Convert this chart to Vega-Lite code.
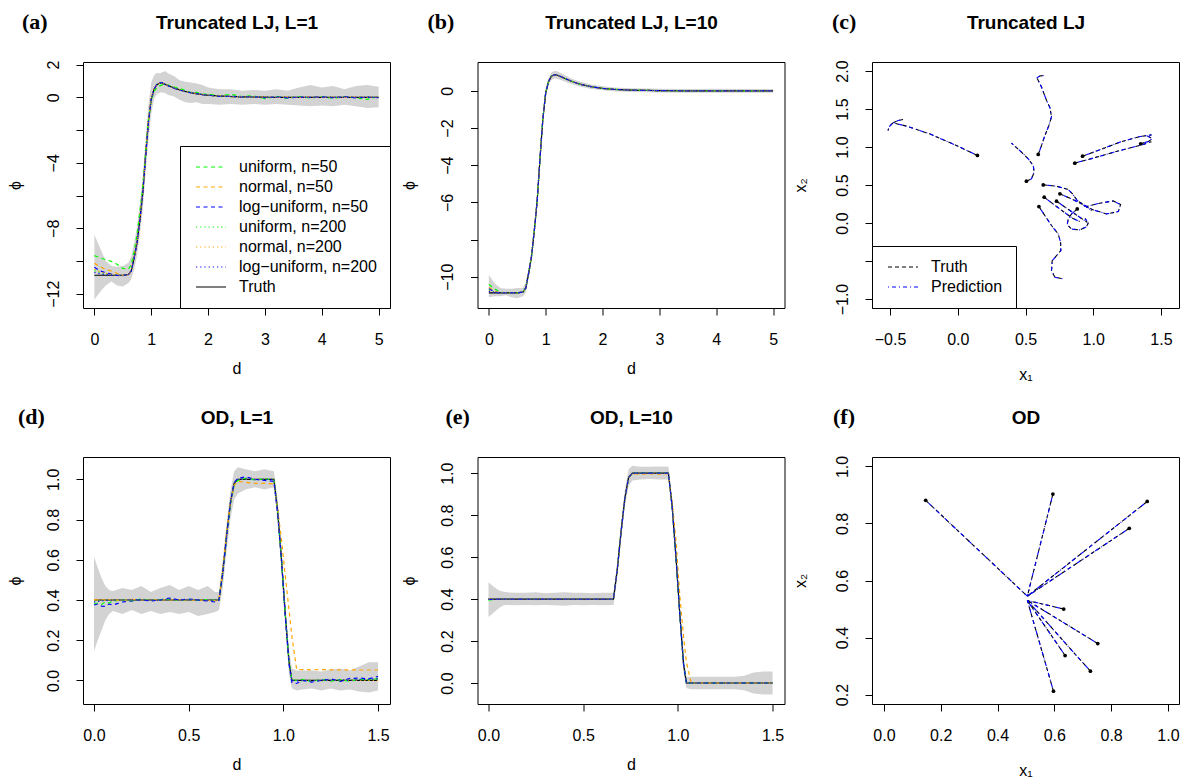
{
"$schema": "https://vega.github.io/schema/vega-lite/v6.json",
"background": "#ffffff",
"padding": {"left": 6, "top": 10, "right": 0, "bottom": 0},
"bounds": "flush",
"columns": 3,
"spacing": {"row": 149, "column": 87.5},
"resolve": {"scale": {"x": "independent", "y": "independent", "color": "independent", "strokeDash": "independent"}, "axis": {"x": "independent", "y": "independent"}, "legend": {"color": "independent", "strokeDash": "independent"}},
"config": {
  "view": {"stroke": "#000000", "strokeWidth": 1},
  "font": "Liberation Sans",
  "axis": {"grid": false, "domain": false, "tickColor": "#000000", "tickSize": 7, "tickWidth": 1, "labelFont": "Liberation Sans", "labelFontSize": 16, "labelColor": "#000000", "titleFont": "Liberation Sans", "titleFontSize": 16, "titleFontWeight": "normal", "titleColor": "#000000", "labelFlush": false, "labelOverlap": false},
  "axisX": {"labelPadding": 16, "titlePadding": 13},
  "axisY": {"labelAngle": -90, "labelAlign": "center", "labelBaseline": "alphabetic", "labelPadding": 18, "titlePadding": 22},
  "legend": {"strokeColor": "#000000", "fillColor": "#ffffff", "padding": 13, "offset": 0, "labelFontSize": 16, "labelFont": "Liberation Sans", "labelColor": "#000000", "symbolType": "M-1,0H5", "symbolSize": 100, "symbolStrokeWidth": 1.2, "labelOffset": 30, "rowPadding": 4, "cornerRadius": 0},
  "title": {"font": "Liberation Serif", "fontSize": 22, "fontWeight": "bold", "anchor": "start", "frame": "group", "offset": 0, "color": "#000000", "baseline": "alphabetic", "align": "left"}
},
"datasets": {
"lj": [
{"p":"a","d":0,"lo":-12.35,"hi":-8.4,"T":-10.87,"u50":-9.67,"n50":-10.14,"l50":-10.38,"u200":-10.6,"n200":-10.5,"l200":-10.7},
{"p":"a","d":0.1,"lo":-11.9,"hi":-9.2,"T":-10.87,"u50":-9.8,"n50":-10.35,"l50":-10.6,"u200":-10.7,"n200":-10.65,"l200":-10.78},
{"p":"a","d":0.2,"lo":-11.5,"hi":-10,"T":-10.87,"u50":-9.92,"n50":-10.5,"l50":-10.72,"u200":-10.78,"n200":-10.75,"l200":-10.83},
{"p":"a","d":0.3,"lo":-11.25,"hi":-10.3,"T":-10.87,"u50":-10.02,"n50":-10.62,"l50":-10.8,"u200":-10.84,"n200":-10.82,"l200":-10.86},
{"p":"a","d":0.4,"lo":-11.5,"hi":-10.35,"T":-10.87,"u50":-10.2,"n50":-10.75,"l50":-10.88,"u200":-10.87,"n200":-10.86,"l200":-10.87},
{"p":"a","d":0.5,"lo":-11.55,"hi":-10.3,"T":-10.87,"u50":-10.45,"n50":-10.88,"l50":-10.9,"u200":-10.88,"n200":-10.88,"l200":-10.87},
{"p":"a","d":0.6,"lo":-11.35,"hi":-10.1,"T":-10.82,"u50":-10.5,"n50":-10.85,"l50":-10.83,"u200":-10.82,"n200":-10.83,"l200":-10.82},
{"p":"a","d":0.65,"lo":-11.1,"hi":-9.7,"T":-10.6,"u50":-10.2,"n50":-10.55,"l50":-10.6,"u200":-10.58,"n200":-10.6,"l200":-10.6},
{"p":"a","d":0.7,"lo":-10.5,"hi":-8.9,"T":-9.8,"u50":-9.4,"n50":-9.7,"l50":-9.8,"u200":-9.75,"n200":-9.8,"l200":-9.8},
{"p":"a","d":0.75,"lo":-9.7,"hi":-7.9,"T":-8.9,"u50":-8.4,"n50":-8.8,"l50":-8.9,"u200":-8.85,"n200":-8.9,"l200":-8.9},
{"p":"a","d":0.8,"lo":-8.4,"hi":-6.5,"T":-7.5,"u50":-7,"n50":-7.4,"l50":-7.5,"u200":-7.45,"n200":-7.5,"l200":-7.5},
{"p":"a","d":0.85,"lo":-6.9,"hi":-4.9,"T":-5.9,"u50":-5.5,"n50":-5.8,"l50":-5.9,"u200":-5.85,"n200":-5.9,"l200":-5.9},
{"p":"a","d":0.9,"lo":-4.7,"hi":-2.6,"T":-3.6,"u50":-3.4,"n50":-3.5,"l50":-3.7,"u200":-3.6,"n200":-3.6,"l200":-3.6},
{"p":"a","d":0.95,"lo":-2.6,"hi":-0.5,"T":-1.5,"u50":-1.4,"n50":-1.4,"l50":-1.6,"u200":-1.5,"n200":-1.5,"l200":-1.5},
{"p":"a","d":1,"lo":-1,"hi":0.9,"T":-0.1,"u50":-0.2,"n50":-0.05,"l50":-0.15,"u200":-0.1,"n200":-0.1,"l200":-0.1},
{"p":"a","d":1.05,"lo":-0.1,"hi":1.35,"T":0.5,"u50":0.35,"n50":0.5,"l50":0.48,"u200":0.48,"n200":0.5,"l200":0.5},
{"p":"a","d":1.1,"lo":0.2,"hi":1.5,"T":0.78,"u50":0.6,"n50":0.8,"l50":0.8,"u200":0.76,"n200":0.78,"l200":0.79},
{"p":"a","d":1.15,"lo":0.3,"hi":1.45,"T":0.86,"u50":0.7,"n50":0.85,"l50":0.9,"u200":0.85,"n200":0.86,"l200":0.87},
{"p":"a","d":1.2,"lo":0.3,"hi":1.55,"T":0.85,"u50":0.78,"n50":0.86,"l50":0.88,"u200":0.86,"n200":0.85,"l200":0.85},
{"p":"a","d":1.25,"lo":0.25,"hi":1.6,"T":0.79,"u50":0.75,"n50":0.8,"l50":0.8,"u200":0.8,"n200":0.79,"l200":0.78},
{"p":"a","d":1.3,"lo":0.15,"hi":1.45,"T":0.72,"u50":0.75,"n50":0.7,"l50":0.7,"u200":0.72,"n200":0.72,"l200":0.72},
{"p":"a","d":1.4,"lo":0.05,"hi":1.3,"T":0.58,"u50":0.62,"n50":0.56,"l50":0.56,"u200":0.6,"n200":0.58,"l200":0.57},
{"p":"a","d":1.5,"lo":-0.15,"hi":1.05,"T":0.46,"u50":0.55,"n50":0.47,"l50":0.44,"u200":0.47,"n200":0.46,"l200":0.45},
{"p":"a","d":1.6,"lo":-0.3,"hi":0.95,"T":0.36,"u50":0.42,"n50":0.34,"l50":0.37,"u200":0.37,"n200":0.36,"l200":0.36},
{"p":"a","d":1.7,"lo":-0.35,"hi":0.9,"T":0.28,"u50":0.3,"n50":0.29,"l50":0.27,"u200":0.29,"n200":0.28,"l200":0.28},
{"p":"a","d":1.8,"lo":-0.3,"hi":0.85,"T":0.22,"u50":0.3,"n50":0.21,"l50":0.23,"u200":0.22,"n200":0.22,"l200":0.22},
{"p":"a","d":1.9,"lo":-0.4,"hi":0.75,"T":0.17,"u50":0.2,"n50":0.18,"l50":0.15,"u200":0.17,"n200":0.17,"l200":0.17},
{"p":"a","d":2,"lo":-0.4,"hi":0.6,"T":0.13,"u50":0.2,"n50":0.12,"l50":0.14,"u200":0.14,"n200":0.13,"l200":0.13},
{"p":"a","d":2.2,"lo":-0.45,"hi":0.5,"T":0.08,"u50":0.1,"n50":0.09,"l50":0.06,"u200":0.07,"n200":0.08,"l200":0.08},
{"p":"a","d":2.4,"lo":-0.4,"hi":0.5,"T":0.05,"u50":0.18,"n50":0.04,"l50":0.07,"u200":0.06,"n200":0.05,"l200":0.05},
{"p":"a","d":2.6,"lo":-0.45,"hi":0.4,"T":0.03,"u50":0.05,"n50":0.04,"l50":0.02,"u200":0.03,"n200":0.03,"l200":0.03},
{"p":"a","d":2.8,"lo":-0.4,"hi":0.45,"T":0.02,"u50":0.1,"n50":0.01,"l50":0.04,"u200":0.02,"n200":0.02,"l200":0.02},
{"p":"a","d":3,"lo":-0.45,"hi":0.4,"T":0.01,"u50":-0.08,"n50":0.02,"l50":-0.02,"u200":0,"n200":0.01,"l200":0.01},
{"p":"a","d":3.2,"lo":-0.4,"hi":0.5,"T":0,"u50":0.06,"n50":-0.01,"l50":0.03,"u200":0.01,"n200":0,"l200":0},
{"p":"a","d":3.4,"lo":-0.45,"hi":0.4,"T":0,"u50":-0.06,"n50":0.01,"l50":-0.03,"u200":-0.01,"n200":0,"l200":0},
{"p":"a","d":3.6,"lo":-0.5,"hi":0.6,"T":0,"u50":0.05,"n50":-0.01,"l50":0.02,"u200":0.01,"n200":0,"l200":0},
{"p":"a","d":3.8,"lo":-0.55,"hi":0.75,"T":0,"u50":-0.04,"n50":0.02,"l50":0,"u200":-0.01,"n200":0,"l200":0},
{"p":"a","d":4,"lo":-0.5,"hi":0.6,"T":0,"u50":0.04,"n50":-0.01,"l50":0.03,"u200":0.01,"n200":0,"l200":0},
{"p":"a","d":4.2,"lo":-0.55,"hi":0.7,"T":0,"u50":-0.05,"n50":0.01,"l50":-0.02,"u200":-0.01,"n200":0,"l200":0},
{"p":"a","d":4.4,"lo":-0.45,"hi":0.5,"T":0,"u50":0.03,"n50":0,"l50":0.04,"u200":0.01,"n200":0,"l200":0},
{"p":"a","d":4.6,"lo":-0.55,"hi":0.7,"T":0,"u50":-0.03,"n50":0.01,"l50":-0.03,"u200":-0.01,"n200":0,"l200":0},
{"p":"a","d":4.8,"lo":-0.65,"hi":0.75,"T":0,"u50":-0.12,"n50":-0.01,"l50":0.02,"u200":0.01,"n200":0,"l200":0},
{"p":"a","d":5,"lo":-0.6,"hi":0.65,"T":0,"u50":0.05,"n50":0.01,"l50":-0.02,"u200":0,"n200":0,"l200":0},
{"p":"b","d":0,"lo":-11.1,"hi":-9.9,"T":-10.87,"u50":-10.42,"n50":-10.58,"l50":-10.65,"u200":-10.7,"n200":-10.75,"l200":-10.78},
{"p":"b","d":0.1,"lo":-11.05,"hi":-10.35,"T":-10.87,"u50":-10.65,"n50":-10.78,"l50":-10.82,"u200":-10.82,"n200":-10.84,"l200":-10.85},
{"p":"b","d":0.2,"lo":-11.05,"hi":-10.6,"T":-10.87,"u50":-10.82,"n50":-10.86,"l50":-10.87,"u200":-10.86,"n200":-10.87,"l200":-10.87},
{"p":"b","d":0.3,"lo":-11,"hi":-10.65,"T":-10.87,"u50":-10.87,"n50":-10.87,"l50":-10.87,"u200":-10.87,"n200":-10.87,"l200":-10.87},
{"p":"b","d":0.4,"lo":-11.1,"hi":-10.65,"T":-10.87,"u50":-10.87,"n50":-10.87,"l50":-10.87,"u200":-10.87,"n200":-10.87,"l200":-10.87},
{"p":"b","d":0.5,"lo":-11.15,"hi":-10.6,"T":-10.87,"u50":-10.87,"n50":-10.87,"l50":-10.87,"u200":-10.87,"n200":-10.87,"l200":-10.87},
{"p":"b","d":0.6,"lo":-11.05,"hi":-10.6,"T":-10.82,"u50":-10.82,"n50":-10.82,"l50":-10.82,"u200":-10.82,"n200":-10.82,"l200":-10.82},
{"p":"b","d":0.65,"lo":-10.85,"hi":-10.3,"T":-10.6,"u50":-10.6,"n50":-10.6,"l50":-10.6,"u200":-10.6,"n200":-10.6,"l200":-10.6},
{"p":"b","d":0.7,"lo":-10.1,"hi":-9.5,"T":-9.8,"u50":-9.8,"n50":-9.8,"l50":-9.8,"u200":-9.8,"n200":-9.8,"l200":-9.8},
{"p":"b","d":0.75,"lo":-9.2,"hi":-8.6,"T":-8.9,"u50":-8.9,"n50":-8.9,"l50":-8.9,"u200":-8.9,"n200":-8.9,"l200":-8.9},
{"p":"b","d":0.8,"lo":-7.8,"hi":-7.2,"T":-7.5,"u50":-7.5,"n50":-7.5,"l50":-7.5,"u200":-7.5,"n200":-7.5,"l200":-7.5},
{"p":"b","d":0.85,"lo":-6.2,"hi":-5.6,"T":-5.9,"u50":-5.9,"n50":-5.9,"l50":-5.9,"u200":-5.9,"n200":-5.9,"l200":-5.9},
{"p":"b","d":0.9,"lo":-3.9,"hi":-3.3,"T":-3.6,"u50":-3.6,"n50":-3.6,"l50":-3.6,"u200":-3.6,"n200":-3.6,"l200":-3.6},
{"p":"b","d":0.95,"lo":-1.8,"hi":-1.2,"T":-1.5,"u50":-1.5,"n50":-1.5,"l50":-1.5,"u200":-1.5,"n200":-1.5,"l200":-1.5},
{"p":"b","d":1,"lo":-0.35,"hi":0.15,"T":-0.1,"u50":-0.1,"n50":-0.1,"l50":-0.1,"u200":-0.1,"n200":-0.1,"l200":-0.1},
{"p":"b","d":1.05,"lo":0.3,"hi":0.7,"T":0.5,"u50":0.5,"n50":0.5,"l50":0.5,"u200":0.5,"n200":0.5,"l200":0.5},
{"p":"b","d":1.1,"lo":0.58,"hi":0.98,"T":0.78,"u50":0.78,"n50":0.78,"l50":0.78,"u200":0.78,"n200":0.78,"l200":0.78},
{"p":"b","d":1.15,"lo":0.66,"hi":1.06,"T":0.86,"u50":0.86,"n50":0.86,"l50":0.86,"u200":0.86,"n200":0.86,"l200":0.86},
{"p":"b","d":1.2,"lo":0.65,"hi":1.05,"T":0.85,"u50":0.85,"n50":0.85,"l50":0.85,"u200":0.85,"n200":0.85,"l200":0.85},
{"p":"b","d":1.3,"lo":0.54,"hi":0.9,"T":0.72,"u50":0.72,"n50":0.72,"l50":0.72,"u200":0.72,"n200":0.72,"l200":0.72},
{"p":"b","d":1.4,"lo":0.42,"hi":0.74,"T":0.58,"u50":0.58,"n50":0.58,"l50":0.58,"u200":0.58,"n200":0.58,"l200":0.58},
{"p":"b","d":1.5,"lo":0.32,"hi":0.6,"T":0.46,"u50":0.46,"n50":0.46,"l50":0.46,"u200":0.46,"n200":0.46,"l200":0.46},
{"p":"b","d":1.6,"lo":0.23,"hi":0.5,"T":0.36,"u50":0.36,"n50":0.36,"l50":0.36,"u200":0.36,"n200":0.36,"l200":0.36},
{"p":"b","d":1.8,"lo":0.1,"hi":0.34,"T":0.22,"u50":0.22,"n50":0.22,"l50":0.22,"u200":0.22,"n200":0.22,"l200":0.22},
{"p":"b","d":2,"lo":0.03,"hi":0.24,"T":0.13,"u50":0.13,"n50":0.13,"l50":0.13,"u200":0.13,"n200":0.13,"l200":0.13},
{"p":"b","d":2.2,"lo":-0.02,"hi":0.18,"T":0.08,"u50":0.08,"n50":0.08,"l50":0.08,"u200":0.08,"n200":0.08,"l200":0.08},
{"p":"b","d":2.5,"lo":-0.06,"hi":0.14,"T":0.04,"u50":0.04,"n50":0.04,"l50":0.04,"u200":0.04,"n200":0.04,"l200":0.04},
{"p":"b","d":3,"lo":-0.09,"hi":0.11,"T":0.01,"u50":0.01,"n50":0.01,"l50":0.01,"u200":0.01,"n200":0.01,"l200":0.01},
{"p":"b","d":3.5,"lo":-0.11,"hi":0.1,"T":0,"u50":0,"n50":0,"l50":0,"u200":0,"n200":0,"l200":0},
{"p":"b","d":4,"lo":-0.1,"hi":0.11,"T":0,"u50":0,"n50":0,"l50":0,"u200":0,"n200":0,"l200":0},
{"p":"b","d":4.5,"lo":-0.11,"hi":0.1,"T":0,"u50":0,"n50":0,"l50":0,"u200":0,"n200":0,"l200":0},
{"p":"b","d":5,"lo":-0.1,"hi":0.1,"T":0,"u50":0,"n50":0,"l50":0,"u200":0,"n200":0,"l200":0}
],
"od": [
{"p":"d","d":0,"lo":0.145,"hi":0.615,"T":0.4,"u50":0.38,"n50":0.402,"l50":0.375,"u200":0.395,"n200":0.4,"l200":0.39},
{"p":"d","d":0.02,"lo":0.2,"hi":0.56,"T":0.4,"u50":0.385,"n50":0.4,"l50":0.38,"u200":0.397,"n200":0.401,"l200":0.393},
{"p":"d","d":0.04,"lo":0.25,"hi":0.51,"T":0.4,"u50":0.378,"n50":0.401,"l50":0.37,"u200":0.398,"n200":0.4,"l200":0.396},
{"p":"d","d":0.06,"lo":0.3,"hi":0.47,"T":0.4,"u50":0.39,"n50":0.399,"l50":0.368,"u200":0.399,"n200":0.4,"l200":0.398},
{"p":"d","d":0.08,"lo":0.33,"hi":0.45,"T":0.4,"u50":0.385,"n50":0.402,"l50":0.38,"u200":0.4,"n200":0.4,"l200":0.399},
{"p":"d","d":0.1,"lo":0.345,"hi":0.445,"T":0.4,"u50":0.395,"n50":0.4,"l50":0.375,"u200":0.4,"n200":0.4,"l200":0.4},
{"p":"d","d":0.15,"lo":0.33,"hi":0.46,"T":0.4,"u50":0.4,"n50":0.398,"l50":0.39,"u200":0.401,"n200":0.4,"l200":0.4},
{"p":"d","d":0.2,"lo":0.35,"hi":0.45,"T":0.4,"u50":0.395,"n50":0.403,"l50":0.395,"u200":0.399,"n200":0.4,"l200":0.401},
{"p":"d","d":0.25,"lo":0.33,"hi":0.47,"T":0.4,"u50":0.405,"n50":0.4,"l50":0.402,"u200":0.4,"n200":0.4,"l200":0.4},
{"p":"d","d":0.3,"lo":0.345,"hi":0.44,"T":0.4,"u50":0.398,"n50":0.399,"l50":0.395,"u200":0.401,"n200":0.4,"l200":0.399},
{"p":"d","d":0.35,"lo":0.33,"hi":0.46,"T":0.4,"u50":0.402,"n50":0.401,"l50":0.4,"u200":0.4,"n200":0.4,"l200":0.4},
{"p":"d","d":0.4,"lo":0.34,"hi":0.475,"T":0.4,"u50":0.405,"n50":0.4,"l50":0.41,"u200":0.401,"n200":0.4,"l200":0.402},
{"p":"d","d":0.45,"lo":0.33,"hi":0.45,"T":0.4,"u50":0.398,"n50":0.402,"l50":0.4,"u200":0.399,"n200":0.4,"l200":0.4},
{"p":"d","d":0.5,"lo":0.34,"hi":0.47,"T":0.4,"u50":0.403,"n50":0.399,"l50":0.405,"u200":0.4,"n200":0.4,"l200":0.401},
{"p":"d","d":0.55,"lo":0.32,"hi":0.45,"T":0.4,"u50":0.398,"n50":0.4,"l50":0.4,"u200":0.4,"n200":0.4,"l200":0.4},
{"p":"d","d":0.6,"lo":0.33,"hi":0.47,"T":0.4,"u50":0.402,"n50":0.398,"l50":0.395,"u200":0.401,"n200":0.4,"l200":0.399},
{"p":"d","d":0.64,"lo":0.34,"hi":0.44,"T":0.4,"u50":0.398,"n50":0.397,"l50":0.39,"u200":0.4,"n200":0.4,"l200":0.4},
{"p":"d","d":0.66,"lo":0.35,"hi":0.44,"T":0.4,"u50":0.4,"n50":0.4,"l50":0.4,"u200":0.4,"n200":0.4,"l200":0.4},
{"p":"d","d":0.68,"lo":0.46,"hi":0.6,"T":0.54,"u50":0.53,"n50":0.55,"l50":0.53,"u200":0.54,"n200":0.54,"l200":0.54},
{"p":"d","d":0.7,"lo":0.64,"hi":0.78,"T":0.72,"u50":0.71,"n50":0.73,"l50":0.71,"u200":0.72,"n200":0.72,"l200":0.72},
{"p":"d","d":0.72,"lo":0.8,"hi":0.94,"T":0.88,"u50":0.87,"n50":0.88,"l50":0.88,"u200":0.88,"n200":0.88,"l200":0.88},
{"p":"d","d":0.74,"lo":0.9,"hi":1.04,"T":0.98,"u50":0.97,"n50":0.97,"l50":0.985,"u200":0.98,"n200":0.98,"l200":0.98},
{"p":"d","d":0.76,"lo":0.93,"hi":1.06,"T":1,"u50":0.995,"n50":0.99,"l50":1.005,"u200":1,"n200":1,"l200":1},
{"p":"d","d":0.8,"lo":0.95,"hi":1.05,"T":1,"u50":1.005,"n50":0.985,"l50":1.012,"u200":1.002,"n200":1,"l200":1.003},
{"p":"d","d":0.85,"lo":0.96,"hi":1.04,"T":1,"u50":0.997,"n50":0.98,"l50":1,"u200":0.999,"n200":1,"l200":0.998},
{"p":"d","d":0.9,"lo":0.95,"hi":1.05,"T":1,"u50":1.003,"n50":0.98,"l50":0.995,"u200":1.001,"n200":1,"l200":1},
{"p":"d","d":0.95,"lo":0.96,"hi":1.04,"T":1,"u50":0.995,"n50":0.978,"l50":0.99,"u200":1,"n200":1,"l200":1},
{"p":"d","d":0.97,"lo":0.78,"hi":0.9,"T":0.84,"u50":0.84,"n50":0.85,"l50":0.83,"u200":0.84,"n200":0.84,"l200":0.84},
{"p":"d","d":0.99,"lo":0.54,"hi":0.66,"T":0.6,"u50":0.6,"n50":0.7,"l50":0.6,"u200":0.6,"n200":0.6,"l200":0.6},
{"p":"d","d":1.01,"lo":0.27,"hi":0.39,"T":0.33,"u50":0.33,"n50":0.52,"l50":0.32,"u200":0.33,"n200":0.33,"l200":0.33},
{"p":"d","d":1.03,"lo":0.03,"hi":0.15,"T":0.09,"u50":0.09,"n50":0.35,"l50":0.08,"u200":0.09,"n200":0.09,"l200":0.09},
{"p":"d","d":1.045,"lo":-0.04,"hi":0.06,"T":0,"u50":0.005,"n50":0.22,"l50":-0.01,"u200":0,"n200":0,"l200":0},
{"p":"d","d":1.07,"lo":-0.05,"hi":0.05,"T":0,"u50":0,"n50":0.055,"l50":-0.015,"u200":0.002,"n200":0,"l200":-0.002},
{"p":"d","d":1.1,"lo":-0.045,"hi":0.05,"T":0,"u50":0.005,"n50":0.054,"l50":0,"u200":-0.002,"n200":0,"l200":0.002},
{"p":"d","d":1.15,"lo":-0.04,"hi":0.05,"T":0,"u50":-0.005,"n50":0.053,"l50":-0.008,"u200":0.002,"n200":0,"l200":-0.002},
{"p":"d","d":1.2,"lo":-0.05,"hi":0.045,"T":0,"u50":0.005,"n50":0.054,"l50":0,"u200":-0.002,"n200":0,"l200":0.002},
{"p":"d","d":1.25,"lo":-0.04,"hi":0.055,"T":0,"u50":-0.003,"n50":0.053,"l50":0.008,"u200":0.002,"n200":0,"l200":0},
{"p":"d","d":1.3,"lo":-0.05,"hi":0.06,"T":0,"u50":0.004,"n50":0.052,"l50":-0.005,"u200":-0.002,"n200":0,"l200":0.003},
{"p":"d","d":1.35,"lo":-0.045,"hi":0.05,"T":0,"u50":-0.004,"n50":0.053,"l50":0.01,"u200":0.002,"n200":0,"l200":0},
{"p":"d","d":1.4,"lo":-0.055,"hi":0.07,"T":0,"u50":0.006,"n50":0.052,"l50":0.012,"u200":0.003,"n200":0,"l200":0.004},
{"p":"d","d":1.45,"lo":-0.06,"hi":0.09,"T":0,"u50":0.003,"n50":0.052,"l50":0.008,"u200":0.004,"n200":0,"l200":0.006},
{"p":"d","d":1.5,"lo":-0.05,"hi":0.09,"T":0,"u50":0.01,"n50":0.052,"l50":0.02,"u200":0.006,"n200":0,"l200":0.008},
{"p":"e","d":0,"lo":0.315,"hi":0.48,"T":0.4,"u50":0.395,"n50":0.4,"l50":0.398,"u200":0.4,"n200":0.4,"l200":0.4},
{"p":"e","d":0.02,"lo":0.33,"hi":0.465,"T":0.4,"u50":0.397,"n50":0.4,"l50":0.399,"u200":0.4,"n200":0.4,"l200":0.4},
{"p":"e","d":0.04,"lo":0.345,"hi":0.45,"T":0.4,"u50":0.399,"n50":0.4,"l50":0.4,"u200":0.4,"n200":0.4,"l200":0.4},
{"p":"e","d":0.06,"lo":0.36,"hi":0.44,"T":0.4,"u50":0.4,"n50":0.4,"l50":0.4,"u200":0.4,"n200":0.4,"l200":0.4},
{"p":"e","d":0.08,"lo":0.37,"hi":0.435,"T":0.4,"u50":0.4,"n50":0.4,"l50":0.4,"u200":0.4,"n200":0.4,"l200":0.4},
{"p":"e","d":0.1,"lo":0.372,"hi":0.432,"T":0.4,"u50":0.4,"n50":0.4,"l50":0.4,"u200":0.4,"n200":0.4,"l200":0.4},
{"p":"e","d":0.15,"lo":0.37,"hi":0.43,"T":0.4,"u50":0.4,"n50":0.4,"l50":0.4,"u200":0.4,"n200":0.4,"l200":0.4},
{"p":"e","d":0.2,"lo":0.372,"hi":0.43,"T":0.4,"u50":0.4,"n50":0.4,"l50":0.4,"u200":0.4,"n200":0.4,"l200":0.4},
{"p":"e","d":0.25,"lo":0.37,"hi":0.432,"T":0.4,"u50":0.4,"n50":0.4,"l50":0.4,"u200":0.4,"n200":0.4,"l200":0.4},
{"p":"e","d":0.3,"lo":0.372,"hi":0.428,"T":0.4,"u50":0.4,"n50":0.4,"l50":0.4,"u200":0.4,"n200":0.4,"l200":0.4},
{"p":"e","d":0.35,"lo":0.37,"hi":0.43,"T":0.4,"u50":0.4,"n50":0.4,"l50":0.4,"u200":0.4,"n200":0.4,"l200":0.4},
{"p":"e","d":0.4,"lo":0.368,"hi":0.432,"T":0.4,"u50":0.4,"n50":0.4,"l50":0.4,"u200":0.4,"n200":0.4,"l200":0.4},
{"p":"e","d":0.45,"lo":0.372,"hi":0.43,"T":0.4,"u50":0.4,"n50":0.4,"l50":0.4,"u200":0.4,"n200":0.4,"l200":0.4},
{"p":"e","d":0.5,"lo":0.37,"hi":0.43,"T":0.4,"u50":0.4,"n50":0.4,"l50":0.4,"u200":0.4,"n200":0.4,"l200":0.4},
{"p":"e","d":0.55,"lo":0.372,"hi":0.428,"T":0.4,"u50":0.4,"n50":0.4,"l50":0.4,"u200":0.4,"n200":0.4,"l200":0.4},
{"p":"e","d":0.6,"lo":0.37,"hi":0.43,"T":0.4,"u50":0.4,"n50":0.4,"l50":0.4,"u200":0.4,"n200":0.4,"l200":0.4},
{"p":"e","d":0.64,"lo":0.372,"hi":0.43,"T":0.4,"u50":0.4,"n50":0.4,"l50":0.4,"u200":0.4,"n200":0.4,"l200":0.4},
{"p":"e","d":0.66,"lo":0.372,"hi":0.43,"T":0.4,"u50":0.4,"n50":0.4,"l50":0.4,"u200":0.4,"n200":0.4,"l200":0.4},
{"p":"e","d":0.68,"lo":0.5,"hi":0.58,"T":0.54,"u50":0.54,"n50":0.54,"l50":0.54,"u200":0.54,"n200":0.54,"l200":0.54},
{"p":"e","d":0.7,"lo":0.68,"hi":0.76,"T":0.72,"u50":0.72,"n50":0.72,"l50":0.72,"u200":0.72,"n200":0.72,"l200":0.72},
{"p":"e","d":0.72,"lo":0.84,"hi":0.92,"T":0.88,"u50":0.88,"n50":0.88,"l50":0.88,"u200":0.88,"n200":0.88,"l200":0.88},
{"p":"e","d":0.74,"lo":0.94,"hi":1.02,"T":0.98,"u50":0.98,"n50":0.98,"l50":0.98,"u200":0.98,"n200":0.98,"l200":0.98},
{"p":"e","d":0.76,"lo":0.965,"hi":1.035,"T":1,"u50":1,"n50":0.997,"l50":1,"u200":1,"n200":1,"l200":1},
{"p":"e","d":0.8,"lo":0.97,"hi":1.03,"T":1,"u50":1,"n50":0.995,"l50":1,"u200":1,"n200":1,"l200":1},
{"p":"e","d":0.85,"lo":0.972,"hi":1.03,"T":1,"u50":1,"n50":0.997,"l50":1,"u200":1,"n200":1,"l200":1},
{"p":"e","d":0.9,"lo":0.97,"hi":1.032,"T":1,"u50":1,"n50":0.995,"l50":1,"u200":1,"n200":1,"l200":1},
{"p":"e","d":0.95,"lo":0.97,"hi":1.03,"T":1,"u50":1,"n50":0.998,"l50":1,"u200":1,"n200":1,"l200":1},
{"p":"e","d":0.97,"lo":0.8,"hi":0.88,"T":0.84,"u50":0.84,"n50":0.86,"l50":0.84,"u200":0.84,"n200":0.84,"l200":0.84},
{"p":"e","d":0.99,"lo":0.56,"hi":0.64,"T":0.6,"u50":0.6,"n50":0.68,"l50":0.6,"u200":0.6,"n200":0.6,"l200":0.6},
{"p":"e","d":1.01,"lo":0.29,"hi":0.37,"T":0.33,"u50":0.33,"n50":0.42,"l50":0.33,"u200":0.33,"n200":0.33,"l200":0.33},
{"p":"e","d":1.03,"lo":0.05,"hi":0.13,"T":0.09,"u50":0.09,"n50":0.22,"l50":0.09,"u200":0.09,"n200":0.09,"l200":0.09},
{"p":"e","d":1.045,"lo":-0.025,"hi":0.03,"T":0,"u50":0,"n50":0.1,"l50":0,"u200":0,"n200":0,"l200":0},
{"p":"e","d":1.07,"lo":-0.03,"hi":0.03,"T":0,"u50":0,"n50":0,"l50":0,"u200":0,"n200":0,"l200":0},
{"p":"e","d":1.1,"lo":-0.03,"hi":0.03,"T":0,"u50":0,"n50":0,"l50":0,"u200":0,"n200":0,"l200":0},
{"p":"e","d":1.15,"lo":-0.03,"hi":0.03,"T":0,"u50":0,"n50":0,"l50":0,"u200":0,"n200":0,"l200":0},
{"p":"e","d":1.2,"lo":-0.03,"hi":0.03,"T":0,"u50":0,"n50":0,"l50":0,"u200":0,"n200":0,"l200":0},
{"p":"e","d":1.25,"lo":-0.03,"hi":0.03,"T":0,"u50":0,"n50":0,"l50":0,"u200":0,"n200":0,"l200":0},
{"p":"e","d":1.3,"lo":-0.03,"hi":0.03,"T":0,"u50":0,"n50":0,"l50":0,"u200":0,"n200":0,"l200":0},
{"p":"e","d":1.35,"lo":-0.035,"hi":0.035,"T":0,"u50":0,"n50":0,"l50":0,"u200":0,"n200":0,"l200":0},
{"p":"e","d":1.4,"lo":-0.05,"hi":0.05,"T":0,"u50":0,"n50":0,"l50":0,"u200":0,"n200":0,"l200":0},
{"p":"e","d":1.45,"lo":-0.055,"hi":0.055,"T":0,"u50":0,"n50":0,"l50":0,"u200":0,"n200":0,"l200":0},
{"p":"e","d":1.5,"lo":-0.055,"hi":0.055,"T":0,"u50":0,"n50":0,"l50":0,"u200":0,"n200":0,"l200":0}
],
"traj": [
{"p":"c","t":1,"i":0,"x":0.145,"y":0.889},{"p":"c","t":1,"i":1,"x":-0.01,"y":1.02},{"p":"c","t":1,"i":2,"x":-0.207,"y":1.174},{"p":"c","t":1,"i":3,"x":-0.379,"y":1.275},{"p":"c","t":1,"i":4,"x":-0.478,"y":1.319},{"p":"c","t":1,"i":5,"x":-0.505,"y":1.27},{"p":"c","t":1,"i":6,"x":-0.515,"y":1.218},
{"p":"c","t":11,"i":1,"x":-0.478,"y":1.319},{"p":"c","t":11,"i":2,"x":-0.44,"y":1.35},{"p":"c","t":11,"i":3,"x":-0.404,"y":1.362},
{"p":"c","t":2,"i":0,"x":0.594,"y":0.902},{"p":"c","t":2,"i":1,"x":0.62,"y":1.03},{"p":"c","t":2,"i":2,"x":0.643,"y":1.152},{"p":"c","t":2,"i":3,"x":0.672,"y":1.28},{"p":"c","t":2,"i":4,"x":0.692,"y":1.4},{"p":"c","t":2,"i":5,"x":0.68,"y":1.52},{"p":"c","t":2,"i":6,"x":0.655,"y":1.614},{"p":"c","t":2,"i":7,"x":0.618,"y":1.789},{"p":"c","t":2,"i":8,"x":0.594,"y":1.877},{"p":"c","t":2,"i":9,"x":0.585,"y":1.91},{"p":"c","t":2,"i":10,"x":0.605,"y":1.935},{"p":"c","t":2,"i":11,"x":0.643,"y":1.943},
{"p":"c","t":3,"i":0,"x":0.507,"y":0.551},{"p":"c","t":3,"i":1,"x":0.544,"y":0.582},{"p":"c","t":3,"i":2,"x":0.564,"y":0.669},{"p":"c","t":3,"i":3,"x":0.557,"y":0.757},{"p":"c","t":3,"i":4,"x":0.52,"y":0.845},{"p":"c","t":3,"i":5,"x":0.47,"y":0.933},{"p":"c","t":3,"i":6,"x":0.429,"y":0.999},{"p":"c","t":3,"i":7,"x":0.397,"y":1.051},
{"p":"c","t":4,"i":0,"x":0.921,"y":0.88},{"p":"c","t":4,"i":1,"x":1.049,"y":0.964},{"p":"c","t":4,"i":2,"x":1.197,"y":1.065},{"p":"c","t":4,"i":3,"x":1.345,"y":1.139},{"p":"c","t":4,"i":4,"x":1.43,"y":1.16},
{"p":"c","t":5,"i":0,"x":0.864,"y":0.788},{"p":"c","t":5,"i":1,"x":1.025,"y":0.867},{"p":"c","t":5,"i":2,"x":1.197,"y":0.955},{"p":"c","t":5,"i":3,"x":1.345,"y":1.021},{"p":"c","t":5,"i":4,"x":1.43,"y":1.07},
{"p":"c","t":6,"i":0,"x":1.35,"y":1.043},{"p":"c","t":6,"i":1,"x":1.41,"y":1.075},{"p":"c","t":6,"i":2,"x":1.435,"y":1.11},{"p":"c","t":6,"i":3,"x":1.39,"y":1.155},
{"p":"c","t":7,"i":0,"x":0.631,"y":0.502},{"p":"c","t":7,"i":1,"x":0.729,"y":0.485},{"p":"c","t":7,"i":2,"x":0.815,"y":0.441},{"p":"c","t":7,"i":3,"x":0.847,"y":0.384},{"p":"c","t":7,"i":4,"x":0.882,"y":0.296},{"p":"c","t":7,"i":5,"x":0.951,"y":0.217},{"p":"c","t":7,"i":6,"x":1.049,"y":0.261},{"p":"c","t":7,"i":7,"x":1.148,"y":0.291},{"p":"c","t":7,"i":8,"x":1.202,"y":0.243},{"p":"c","t":7,"i":9,"x":1.185,"y":0.151},{"p":"c","t":7,"i":10,"x":1.099,"y":0.12},{"p":"c","t":7,"i":11,"x":1.0,"y":0.173},{"p":"c","t":7,"i":12,"x":0.926,"y":0.234},
{"p":"c","t":8,"i":0,"x":0.754,"y":0.384},{"p":"c","t":8,"i":1,"x":0.84,"y":0.318},{"p":"c","t":8,"i":2,"x":0.914,"y":0.252},{"p":"c","t":8,"i":3,"x":0.963,"y":0.2},{"p":"c","t":8,"i":4,"x":0.988,"y":0.164},
{"p":"c","t":9,"i":0,"x":0.638,"y":0.34},{"p":"c","t":9,"i":1,"x":0.729,"y":0.217},{"p":"c","t":9,"i":2,"x":0.803,"y":0.12},{"p":"c","t":9,"i":3,"x":0.85,"y":0.06},{"p":"c","t":9,"i":4,"x":0.9,"y":0.02},
{"p":"c","t":10,"i":0,"x":0.729,"y":0.287},{"p":"c","t":10,"i":1,"x":0.828,"y":0.164},{"p":"c","t":10,"i":2,"x":0.901,"y":0.076},{"p":"c","t":10,"i":3,"x":0.956,"y":0.01},
{"p":"c","t":12,"i":0,"x":0.882,"y":0.186},{"p":"c","t":12,"i":1,"x":0.84,"y":0.12},{"p":"c","t":12,"i":2,"x":0.815,"y":0.054},{"p":"c","t":12,"i":3,"x":0.808,"y":-0.02},{"p":"c","t":12,"i":4,"x":0.84,"y":-0.08},{"p":"c","t":12,"i":5,"x":0.9,"y":-0.09},{"p":"c","t":12,"i":6,"x":0.95,"y":-0.05},{"p":"c","t":12,"i":7,"x":0.963,"y":0.0},{"p":"c","t":12,"i":8,"x":0.94,"y":0.06},
{"p":"c","t":13,"i":0,"x":0.599,"y":0.217},{"p":"c","t":13,"i":1,"x":0.643,"y":0.098},{"p":"c","t":13,"i":2,"x":0.692,"y":-0.033},{"p":"c","t":13,"i":3,"x":0.741,"y":-0.143},{"p":"c","t":13,"i":4,"x":0.759,"y":-0.253},{"p":"c","t":13,"i":5,"x":0.761,"y":-0.363},{"p":"c","t":13,"i":6,"x":0.729,"y":-0.429},{"p":"c","t":13,"i":7,"x":0.697,"y":-0.495},{"p":"c","t":13,"i":8,"x":0.692,"y":-0.626},{"p":"c","t":13,"i":9,"x":0.717,"y":-0.714},{"p":"c","t":13,"i":10,"x":0.783,"y":-0.736},
{"p":"f","t":1,"i":0,"x":0.147,"y":0.881},{"p":"f","t":1,"i":1,"x":0.505,"y":0.545},
{"p":"f","t":2,"i":0,"x":0.595,"y":0.903},{"p":"f","t":2,"i":1,"x":0.505,"y":0.545},
{"p":"f","t":3,"i":0,"x":0.927,"y":0.877},{"p":"f","t":3,"i":1,"x":0.505,"y":0.545},
{"p":"f","t":4,"i":0,"x":0.864,"y":0.783},{"p":"f","t":4,"i":1,"x":0.505,"y":0.545},
{"p":"f","t":5,"i":0,"x":0.633,"y":0.5},{"p":"f","t":5,"i":1,"x":0.505,"y":0.53},
{"p":"f","t":6,"i":0,"x":0.753,"y":0.379},{"p":"f","t":6,"i":1,"x":0.505,"y":0.53},
{"p":"f","t":7,"i":0,"x":0.638,"y":0.337},{"p":"f","t":7,"i":1,"x":0.505,"y":0.53},
{"p":"f","t":8,"i":0,"x":0.727,"y":0.282},{"p":"f","t":8,"i":1,"x":0.505,"y":0.53},
{"p":"f","t":9,"i":0,"x":0.597,"y":0.212},{"p":"f","t":9,"i":1,"x":0.505,"y":0.53}
]
},
"concat": [
 {"width": 307, "height": 246, "title": {"text": "(a)", "dx": -61, "dy": 25},
  "data": {"name": "lj"}, "transform": [{"filter": "datum.p == 'a'"}],
  "resolve": {"axis": {"x": "independent"}},
  "layer": [
   {"mark": {"type": "area", "color": "#d3d3d3"},
    "encoding": {
     "x": {"field": "d", "type": "quantitative", "scale": {"domain": [-0.2, 5.2], "nice": false, "zero": false}, "axis": {"values": [0,1,2,3,4,5], "title": "d"}},
     "y": {"field": "lo", "type": "quantitative", "scale": {"domain": [-12.87, 2.16], "nice": false, "zero": false}, "axis": {"values": [-12,-10,-8,-6,-4,-2,0,2], "labelExpr": "datum.value == -2 || datum.value == -6 || datum.value == -10 ? '' : datum.label", "title": "ϕ"}},
     "y2": {"field": "hi"}}},
   {"mark": {"type": "line", "strokeWidth": 1.2},
    "encoding": {
     "x": {"field": "d", "type": "quantitative", "scale": {"domain": [-0.2, 5.2], "nice": false, "zero": false}, "axis": {"orient": "top", "labels": false, "ticks": false, "domain": false, "title": "Truncated LJ, L=1", "titleFontSize": 19, "titleFontWeight": "bold", "titlePadding": 34, "titleBaseline": "alphabetic"}},
     "y": {"field": "T", "type": "quantitative", "scale": {"domain": [-12.87, 2.16], "nice": false, "zero": false}, "axis": {"values": [-12,-10,-8,-6,-4,-2,0,2], "labelExpr": "datum.value == -2 || datum.value == -6 || datum.value == -10 ? '' : datum.label", "title": "ϕ"}},
     "color": {"datum": "T", "scale": {"domain": ["u50","n50","l50","u200","n200","l200","T"], "range": ["#00ff00","#ffa500","#0000ff","#00ff00","#ffa500","#0000ff","#000000"]}, "legend": {"orient": "bottom-right", "title": null, "labelExpr": "datum.label=='u50'?'uniform, n=50':datum.label=='n50'?'normal, n=50':datum.label=='l50'?'log−uniform, n=50':datum.label=='u200'?'uniform, n=200':datum.label=='n200'?'normal, n=200':datum.label=='l200'?'log−uniform, n=200':'Truth'"}},
     "strokeDash": {"datum": "T", "scale": {"domain": ["u50","n50","l50","u200","n200","l200","T"], "range": [[4,3.5],[4,3.5],[4,3.5],[1.2,3],[1.2,3],[1.2,3],[1,0]]}, "legend": {"orient": "bottom-right", "title": null, "labelExpr": "datum.label=='u50'?'uniform, n=50':datum.label=='n50'?'normal, n=50':datum.label=='l50'?'log−uniform, n=50':datum.label=='u200'?'uniform, n=200':datum.label=='n200'?'normal, n=200':datum.label=='l200'?'log−uniform, n=200':'Truth'"}}}},
   {"transform": [{"fold": ["u50","n50","l50","u200","n200","l200"], "as": ["s","y"]}],
    "mark": {"type": "line", "strokeWidth": 1.2},
    "encoding": {
     "x": {"field": "d", "type": "quantitative", "scale": {"domain": [-0.2, 5.2], "nice": false, "zero": false}, "axis": null},
     "y": {"field": "y", "type": "quantitative", "scale": {"domain": [-12.87, 2.16], "nice": false, "zero": false}, "axis": {"values": [-12,-10,-8,-6,-4,-2,0,2], "labelExpr": "datum.value == -2 || datum.value == -6 || datum.value == -10 ? '' : datum.label", "title": "ϕ"}},
     "color": {"field": "s", "type": "nominal", "scale": {"domain": ["u50","n50","l50","u200","n200","l200","T"], "range": ["#00ff00","#ffa500","#0000ff","#00ff00","#ffa500","#0000ff","#000000"]}, "legend": {"orient": "bottom-right", "title": null, "labelExpr": "datum.label=='u50'?'uniform, n=50':datum.label=='n50'?'normal, n=50':datum.label=='l50'?'log−uniform, n=50':datum.label=='u200'?'uniform, n=200':datum.label=='n200'?'normal, n=200':datum.label=='l200'?'log−uniform, n=200':'Truth'"}},
     "strokeDash": {"field": "s", "type": "nominal", "scale": {"domain": ["u50","n50","l50","u200","n200","l200","T"], "range": [[4,3.5],[4,3.5],[4,3.5],[1.2,3],[1.2,3],[1.2,3],[1,0]]}, "legend": {"orient": "bottom-right", "title": null, "labelExpr": "datum.label=='u50'?'uniform, n=50':datum.label=='n50'?'normal, n=50':datum.label=='l50'?'log−uniform, n=50':datum.label=='u200'?'uniform, n=200':datum.label=='n200'?'normal, n=200':datum.label=='l200'?'log−uniform, n=200':'Truth'"}}}}
  ]},
 {"width": 307, "height": 246, "title": {"text": "(b)", "dx": -50, "dy": 25},
  "data": {"name": "lj"}, "transform": [{"filter": "datum.p == 'b'"}],
  "resolve": {"axis": {"x": "independent"}},
  "layer": [
   {"mark": {"type": "area", "color": "#d3d3d3"},
    "encoding": {
     "x": {"field": "d", "type": "quantitative", "scale": {"domain": [-0.2, 5.2], "nice": false, "zero": false}, "axis": {"values": [0,1,2,3,4,5], "title": "d"}},
     "y": {"field": "lo", "type": "quantitative", "scale": {"domain": [-11.68, 1.55], "nice": false, "zero": false}, "axis": {"values": [-10,-8,-6,-4,-2,0], "labelExpr": "datum.value == -8 ? '' : datum.label", "title": "ϕ"}},
     "y2": {"field": "hi"}}},
   {"mark": {"type": "line", "strokeWidth": 1.2, "color": "#000000"},
    "encoding": {
     "x": {"field": "d", "type": "quantitative", "scale": {"domain": [-0.2, 5.2], "nice": false, "zero": false}, "axis": {"orient": "top", "labels": false, "ticks": false, "domain": false, "title": "Truncated LJ, L=10", "titleFontSize": 19, "titleFontWeight": "bold", "titlePadding": 34, "titleBaseline": "alphabetic"}},
     "y": {"field": "T", "type": "quantitative", "scale": {"domain": [-11.68, 1.55], "nice": false, "zero": false}, "axis": {"values": [-10,-8,-6,-4,-2,0], "labelExpr": "datum.value == -8 ? '' : datum.label", "title": "ϕ"}}}},
   {"transform": [{"fold": ["u50","n50","l50","u200","n200","l200"], "as": ["s","y"]}],
    "mark": {"type": "line", "strokeWidth": 1.2},
    "encoding": {
     "x": {"field": "d", "type": "quantitative", "scale": {"domain": [-0.2, 5.2], "nice": false, "zero": false}, "axis": null},
     "y": {"field": "y", "type": "quantitative", "scale": {"domain": [-11.68, 1.55], "nice": false, "zero": false}, "axis": {"values": [-10,-8,-6,-4,-2,0], "labelExpr": "datum.value == -8 ? '' : datum.label", "title": "ϕ"}},
     "color": {"field": "s", "type": "nominal", "scale": {"domain": ["u50","n50","l50","u200","n200","l200"], "range": ["#00ff00","#ffa500","#0000ff","#00ff00","#ffa500","#0000ff"]}, "legend": null},
     "strokeDash": {"field": "s", "type": "nominal", "scale": {"domain": ["u50","n50","l50","u200","n200","l200"], "range": [[4,3.5],[4,3.5],[4,3.5],[1.2,3],[1.2,3],[1.2,3]]}, "legend": null}}}
  ]},
 {"width": 307, "height": 246, "title": {"text": "(c)", "dx": -40, "dy": 25},
  "data": {"name": "traj"}, "transform": [{"filter": "datum.p == 'c'"}],
  "resolve": {"axis": {"x": "independent"}},
  "layer": [
   {"mark": {"type": "line", "strokeWidth": 1.1},
    "encoding": {
     "x": {"field": "x", "type": "quantitative", "scale": {"domain": [-0.633, 1.633], "nice": false, "zero": false}, "axis": {"values": [-0.5,0,0.5,1,1.5], "format": ".1f", "title": "x₁", "titlePadding": 19}},
     "y": {"field": "y", "type": "quantitative", "scale": {"domain": [-1.118, 2.119], "nice": false, "zero": false}, "axis": {"values": [-1,-0.5,0,0.5,1,1.5,2], "format": ".1f", "labelExpr": "datum.value == -0.5 ? '' : datum.label", "title": "x₂", "titlePadding": 26}},
     "detail": {"field": "t", "type": "nominal"},
     "order": {"field": "i", "type": "quantitative"},
     "color": {"datum": "Truth", "scale": {"domain": ["Truth","Prediction"], "range": ["#000000","#0000ff"]}, "legend": {"orient": "bottom-left", "title": null}},
     "strokeDash": {"datum": "Truth", "scale": {"domain": ["Truth","Prediction"], "range": [[4,3],[1,3,4,3]]}, "legend": {"orient": "bottom-left", "title": null}}}},
   {"mark": {"type": "line", "strokeWidth": 1.1},
    "encoding": {
     "x": {"field": "x", "type": "quantitative", "scale": {"domain": [-0.633, 1.633], "nice": false, "zero": false}, "axis": {"orient": "top", "labels": false, "ticks": false, "domain": false, "title": "Truncated LJ", "titleFontSize": 19, "titleFontWeight": "bold", "titlePadding": 34, "titleBaseline": "alphabetic"}},
     "y": {"field": "y", "type": "quantitative", "scale": {"domain": [-1.118, 2.119], "nice": false, "zero": false}, "axis": {"values": [-1,-0.5,0,0.5,1,1.5,2], "format": ".1f", "labelExpr": "datum.value == -0.5 ? '' : datum.label", "title": "x₂", "titlePadding": 26}},
     "detail": {"field": "t", "type": "nominal"},
     "order": {"field": "i", "type": "quantitative"},
     "color": {"datum": "Prediction", "scale": {"domain": ["Truth","Prediction"], "range": ["#000000","#0000ff"]}, "legend": {"orient": "bottom-left", "title": null}},
     "strokeDash": {"datum": "Prediction", "scale": {"domain": ["Truth","Prediction"], "range": [[4,3],[1,3,4,3]]}, "legend": {"orient": "bottom-left", "title": null}}}},
   {"transform": [{"filter": "datum.i == 0"}],
    "mark": {"type": "point", "filled": true, "size": 14, "color": "#000000", "opacity": 1},
    "encoding": {
     "x": {"field": "x", "type": "quantitative", "scale": {"domain": [-0.633, 1.633], "nice": false, "zero": false}, "axis": null},
     "y": {"field": "y", "type": "quantitative", "scale": {"domain": [-1.118, 2.119], "nice": false, "zero": false}, "axis": {"values": [-1,-0.5,0,0.5,1,1.5,2], "format": ".1f", "labelExpr": "datum.value == -0.5 ? '' : datum.label", "title": "x₂", "titlePadding": 26}}}}
  ]},
 {"width": 307, "height": 247, "title": {"text": "(d)", "dx": -65, "dy": 25},
  "data": {"name": "od"}, "transform": [{"filter": "datum.p == 'd'"}],
  "resolve": {"axis": {"x": "independent"}},
  "layer": [
   {"mark": {"type": "area", "color": "#d3d3d3"},
    "encoding": {
     "x": {"field": "d", "type": "quantitative", "scale": {"domain": [-0.058, 1.563], "nice": false, "zero": false}, "axis": {"values": [0,0.5,1,1.5], "format": ".1f", "title": "d"}},
     "y": {"field": "lo", "type": "quantitative", "scale": {"domain": [-0.117, 1.111], "nice": false, "zero": false}, "axis": {"values": [0,0.2,0.4,0.6,0.8,1], "format": ".1f", "title": "ϕ"}},
     "y2": {"field": "hi"}}},
   {"mark": {"type": "line", "strokeWidth": 1.2, "color": "#000000"},
    "encoding": {
     "x": {"field": "d", "type": "quantitative", "scale": {"domain": [-0.058, 1.563], "nice": false, "zero": false}, "axis": {"orient": "top", "labels": false, "ticks": false, "domain": false, "title": "OD, L=1", "titleFontSize": 19, "titleFontWeight": "bold", "titlePadding": 34, "titleBaseline": "alphabetic"}},
     "y": {"field": "T", "type": "quantitative", "scale": {"domain": [-0.117, 1.111], "nice": false, "zero": false}, "axis": {"values": [0,0.2,0.4,0.6,0.8,1], "format": ".1f", "title": "ϕ"}}}},
   {"transform": [{"fold": ["u50","n50","l50","u200","n200","l200"], "as": ["s","y"]}],
    "mark": {"type": "line", "strokeWidth": 1.2},
    "encoding": {
     "x": {"field": "d", "type": "quantitative", "scale": {"domain": [-0.058, 1.563], "nice": false, "zero": false}, "axis": null},
     "y": {"field": "y", "type": "quantitative", "scale": {"domain": [-0.117, 1.111], "nice": false, "zero": false}, "axis": {"values": [0,0.2,0.4,0.6,0.8,1], "format": ".1f", "title": "ϕ"}},
     "color": {"field": "s", "type": "nominal", "scale": {"domain": ["u50","n50","l50","u200","n200","l200"], "range": ["#00ff00","#ffa500","#0000ff","#00ff00","#ffa500","#0000ff"]}, "legend": null},
     "strokeDash": {"field": "s", "type": "nominal", "scale": {"domain": ["u50","n50","l50","u200","n200","l200"], "range": [[4,3.5],[4,3.5],[4,3.5],[1.2,3],[1.2,3],[1.2,3]]}, "legend": null}}}
  ]},
 {"width": 307, "height": 247, "title": {"text": "(e)", "dx": -32, "dy": 25},
  "data": {"name": "od"}, "transform": [{"filter": "datum.p == 'e'"}],
  "resolve": {"axis": {"x": "independent"}},
  "layer": [
   {"mark": {"type": "area", "color": "#d3d3d3"},
    "encoding": {
     "x": {"field": "d", "type": "quantitative", "scale": {"domain": [-0.058, 1.563], "nice": false, "zero": false}, "axis": {"values": [0,0.5,1,1.5], "format": ".1f", "title": "d"}},
     "y": {"field": "lo", "type": "quantitative", "scale": {"domain": [-0.1, 1.077], "nice": false, "zero": false}, "axis": {"values": [0,0.2,0.4,0.6,0.8,1], "format": ".1f", "title": "ϕ"}},
     "y2": {"field": "hi"}}},
   {"mark": {"type": "line", "strokeWidth": 1.2, "color": "#000000"},
    "encoding": {
     "x": {"field": "d", "type": "quantitative", "scale": {"domain": [-0.058, 1.563], "nice": false, "zero": false}, "axis": {"orient": "top", "labels": false, "ticks": false, "domain": false, "title": "OD, L=10", "titleFontSize": 19, "titleFontWeight": "bold", "titlePadding": 34, "titleBaseline": "alphabetic"}},
     "y": {"field": "T", "type": "quantitative", "scale": {"domain": [-0.1, 1.077], "nice": false, "zero": false}, "axis": {"values": [0,0.2,0.4,0.6,0.8,1], "format": ".1f", "title": "ϕ"}}}},
   {"transform": [{"fold": ["u50","n50","l50","u200","n200","l200"], "as": ["s","y"]}],
    "mark": {"type": "line", "strokeWidth": 1.2},
    "encoding": {
     "x": {"field": "d", "type": "quantitative", "scale": {"domain": [-0.058, 1.563], "nice": false, "zero": false}, "axis": null},
     "y": {"field": "y", "type": "quantitative", "scale": {"domain": [-0.1, 1.077], "nice": false, "zero": false}, "axis": {"values": [0,0.2,0.4,0.6,0.8,1], "format": ".1f", "title": "ϕ"}},
     "color": {"field": "s", "type": "nominal", "scale": {"domain": ["u50","n50","l50","u200","n200","l200"], "range": ["#00ff00","#ffa500","#0000ff","#00ff00","#ffa500","#0000ff"]}, "legend": null},
     "strokeDash": {"field": "s", "type": "nominal", "scale": {"domain": ["u50","n50","l50","u200","n200","l200"], "range": [[4,3.5],[4,3.5],[4,3.5],[1.2,3],[1.2,3],[1.2,3]]}, "legend": null}}}
  ]},
 {"width": 307, "height": 247, "title": {"text": "(f)", "dx": -39, "dy": 25},
  "data": {"name": "traj"}, "transform": [{"filter": "datum.p == 'f'"}],
  "resolve": {"axis": {"x": "independent"}},
  "layer": [
   {"mark": {"type": "line", "strokeWidth": 1.1, "color": "#000000", "strokeDash": [4,3]},
    "encoding": {
     "x": {"field": "x", "type": "quantitative", "scale": {"domain": [-0.042, 1.039], "nice": false, "zero": false}, "axis": {"values": [0,0.2,0.4,0.6,0.8,1], "format": ".1f", "title": "x₁", "titlePadding": 19}},
     "y": {"field": "y", "type": "quantitative", "scale": {"domain": [0.167, 1.033], "nice": false, "zero": false}, "axis": {"values": [0.2,0.4,0.6,0.8,1], "format": ".1f", "title": "x₂", "titlePadding": 26}},
     "detail": {"field": "t", "type": "nominal"},
     "order": {"field": "i", "type": "quantitative"}}},
   {"mark": {"type": "line", "strokeWidth": 1.1, "color": "#0000ff", "strokeDash": [1,3,4,3]},
    "encoding": {
     "x": {"field": "x", "type": "quantitative", "scale": {"domain": [-0.042, 1.039], "nice": false, "zero": false}, "axis": {"orient": "top", "labels": false, "ticks": false, "domain": false, "title": "OD", "titleFontSize": 19, "titleFontWeight": "bold", "titlePadding": 34, "titleBaseline": "alphabetic"}},
     "y": {"field": "y", "type": "quantitative", "scale": {"domain": [0.167, 1.033], "nice": false, "zero": false}, "axis": {"values": [0.2,0.4,0.6,0.8,1], "format": ".1f", "title": "x₂", "titlePadding": 26}},
     "detail": {"field": "t", "type": "nominal"},
     "order": {"field": "i", "type": "quantitative"}}},
   {"transform": [{"filter": "datum.i == 0"}],
    "mark": {"type": "point", "filled": true, "size": 14, "color": "#000000", "opacity": 1},
    "encoding": {
     "x": {"field": "x", "type": "quantitative", "scale": {"domain": [-0.042, 1.039], "nice": false, "zero": false}, "axis": null},
     "y": {"field": "y", "type": "quantitative", "scale": {"domain": [0.167, 1.033], "nice": false, "zero": false}, "axis": {"values": [0.2,0.4,0.6,0.8,1], "format": ".1f", "title": "x₂", "titlePadding": 26}}}}
  ]}
]
}
